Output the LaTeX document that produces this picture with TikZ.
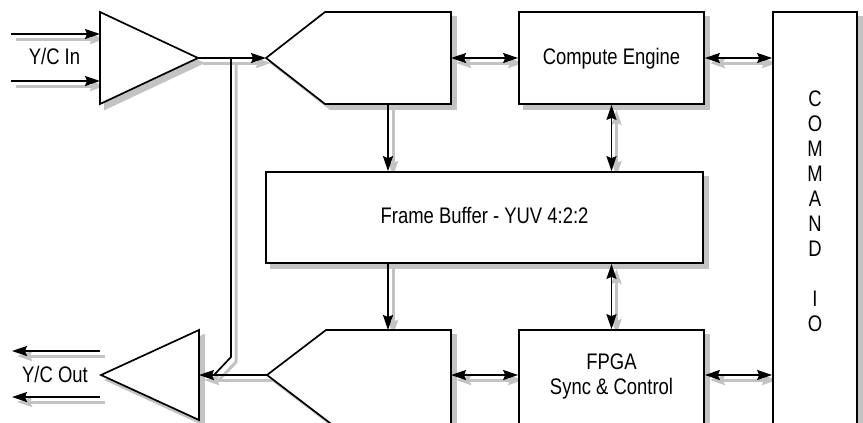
\documentclass[tikz,border=0pt]{standalone}
\usepackage{fontspec}
\setmainfont{Liberation Sans}[FakeStretch=0.82]
\usetikzlibrary{arrows.meta}
\definecolor{sg}{RGB}{195,195,195}
\newcommand\drawlayer[1]{%
  % input lines
  \coordinate (#1i1a) at (11,34);  \coordinate (#1i1b) at (100,34);
  \coordinate (#1i2a) at (11,81);  \coordinate (#1i2b) at (100,81);
  \draw[con,->] (#1i1a) -- (#1i1b);
  \draw[con,->] (#1i2a) -- (#1i2b);
  % input amplifier
  \draw[shp] (100,12) -- (198,58) coordinate (#1a1o) -- (100,104) -- cycle;
  % upper pentagon
  \draw[shp] (266,58) coordinate (#1p1in) -- (325,12) -- (451,12) -- (451,104) -- (325,104) -- cycle;
  \coordinate (#1p1r) at (451,58);
  \coordinate (#1p1b) at (388,104);
  % boxes
  \node[box, minimum width=185bp, minimum height=92bp] (#1ce) at (611.5,58) {};
  \node[box, minimum width=84bp, minimum height=430bp] (#1cmd) at (815,227) {};
  \node[box, minimum width=437bp, minimum height=91bp] (#1fb) at (484.5,217.5) {};
  \node[box, minimum width=185bp, minimum height=96bp] (#1fpga) at (611.5,378) {};
  % lower pentagon
  \draw[shp] (267,375) coordinate (#1p2in) -- (326,330) -- (451,330) -- (451,426) -- (333.9,426) -- cycle;
  \coordinate (#1p2r) at (451,375);
  \coordinate (#1p2t) at (388,330);
  % output amplifier
  \draw[shp] (199,330) -- (101,375) -- (199,420) -- cycle;
  \coordinate (#1a2i) at (199,375);
  % connectors
  \draw[con,->] (#1a1o) -- (#1p1in);
  \coordinate (#1j1) at (231,58);
  \coordinate (#1j2) at (231,357);
  \coordinate (#1j3) at (214,375);
  \draw[con] (#1j1) -- (#1j2) -- (#1j3);
  \draw[con,<->] (#1p1r) -- (#1ce.west);
  \draw[con,<->] (#1ce.east) -- (#1ce.east -| #1cmd.west);
  \draw[con,->] (#1p1b) -- (#1p1b |- #1fb.north);
  \draw[con,<->] (#1ce.south) -- (#1ce.south |- #1fb.north);
  \draw[con,->] (#1p2t |- #1fb.south) -- (#1p2t);
  \draw[con,<->] (#1fpga.north |- #1fb.south) -- (#1fpga.north);
  \draw[con,->] (#1p2in) -- (#1a2i);
  \draw[con,<->] (#1p2r) -- (#1p2r -| #1fpga.west);
  \draw[con,<->] (#1fpga.east |- #1p2r) -- (#1p2r -| #1cmd.west);
  % output lines
  \coordinate (#1o1a) at (100,351); \coordinate (#1o1b) at (12,351);
  \coordinate (#1o2a) at (100,397); \coordinate (#1o2b) at (12,397);
  \draw[con,->] (#1o1a) -- (#1o1b);
  \draw[con,->] (#1o2a) -- (#1o2b);
}
\begin{document}
\begin{tikzpicture}[x=1bp,y=-1bp,
  font=\fontsize{22.5bp}{27bp}\selectfont,
  >={Stealth[length=15bp,width=10bp,inset=2bp]},
  txt/.style={anchor=base, inner sep=0pt}]
\clip (0,0) rectangle (863,422);
\useasboundingbox (0,0) rectangle (863,422);
% shadow layer
\begin{scope}[shift={(5,5)},
  box/.style={rectangle, draw=sg, fill=sg, line width=1.7bp, inner sep=0pt},
  shp/.style={draw=sg, fill=sg, line width=1.7bp},
  con/.style={draw=sg, line width=3bp}]
\drawlayer{s}
\end{scope}
% main layer
\begin{scope}[
  box/.style={rectangle, draw=black, fill=white, line width=1.7bp, inner sep=0pt},
  shp/.style={draw=black, fill=white, line width=1.7bp},
  con/.style={draw=black, line width=1.7bp}]
\drawlayer{m}
\end{scope}
% texts
\node[txt] (tin) at (54.5,64.5) {Y/C In};
\node[txt] (tout) at (55,382.5) {Y/C Out};
\node[txt] (tce) at (611.5,64.5) {Compute Engine};
\node[txt] (tfb) at (484.5,223.5) {Frame Buffer - YUV 4:2:2};
\node[txt] (tf1) at (611.5,369.5) {FPGA};
\node[txt] (tf2) at (611.5,394.5) {Sync \& Control};
\foreach \l [count=\i from 0] in {C,O,M,M,A,N,D,{},I,O}
  \node[txt] (cmd\i) at (815,106+25.1*\i) {\l};
\end{tikzpicture}
\end{document}
